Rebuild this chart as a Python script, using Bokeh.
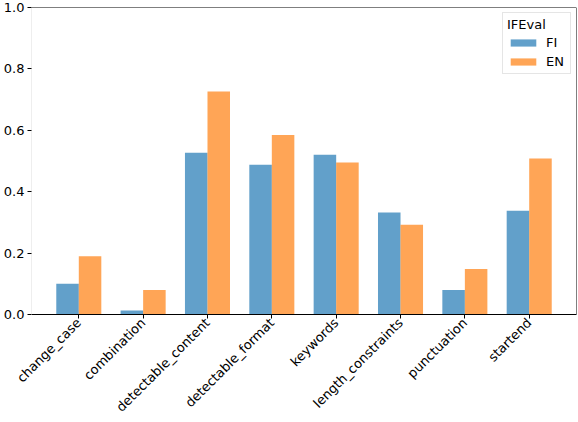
import numpy as np
from bokeh.plotting import figure
from bokeh.models import Range1d, FixedTicker, Span, NumeralTickFormatter
from bokeh.embed import file_html
from bokeh.resources import INLINE

categories = ["change_case", "combination", "detectable_content", "detectable_format",
              "keywords", "length_constraints", "punctuation", "startend"]
fi_values = [0.100, 0.013, 0.527, 0.488, 0.520, 0.332, 0.080, 0.338]
en_values = [0.190, 0.080, 0.726, 0.585, 0.495, 0.292, 0.148, 0.508]
series_names = ["FI", "EN"]
y_ticks = [0.0, 0.2, 0.4, 0.6, 0.8, 1.0]
legend_title = "IFEval"

FONT = "DejaVu Sans"
FS = "13px"
bar_w = 0.35

x = np.arange(len(categories))
span_all = len(categories) - 1 + 2 * bar_w
x_lo = -bar_w - 0.05 * span_all
x_hi = (len(categories) - 1) + bar_w + 0.05 * span_all

p = figure(width=578, height=422, output_backend="svg", toolbar_location=None,
           x_range=Range1d(x_lo, x_hi), y_range=Range1d(0, 1),
           min_border_top=7, min_border_right=2, min_border_left=0, min_border_bottom=0)

p.vbar(x=x - bar_w / 2, top=fi_values, width=bar_w, fill_color="#1f77b4", fill_alpha=0.7,
       line_color=None, legend_label=series_names[0])
p.vbar(x=x + bar_w / 2, top=en_values, width=bar_w, fill_color="#ff7f0e", fill_alpha=0.7,
       line_color=None, legend_label=series_names[1])

p.outline_line_color = None
p.grid.visible = False
p.background_fill_color = "white"
p.border_fill_color = "white"

p.add_layout(Span(location=p.y_range.end, dimension="width", line_color="black", line_width=1))
p.add_layout(Span(location=p.x_range.end, dimension="height", line_color="black", line_width=1))

xa = p.xaxis[0]
xa.ticker = FixedTicker(ticks=list(x))
xa.major_label_overrides = {int(i): c for i, c in zip(x, categories)}
xa.major_label_orientation = np.pi / 4
xa.major_label_text_font = FONT
xa.major_label_text_font_size = FS
xa.major_label_text_color = "black"
xa.major_tick_out = 4
xa.major_tick_in = 0
xa.minor_tick_line_color = None
xa.axis_line_color = "black"
xa.major_tick_line_color = "black"
xa.major_label_standoff = 2

ya = p.yaxis[0]
ya.ticker = FixedTicker(ticks=y_ticks)
ya.formatter = NumeralTickFormatter(format="0.0")
ya.major_label_text_font = FONT
ya.major_label_text_font_size = FS
ya.major_label_text_color = "black"
ya.major_tick_out = 4
ya.major_tick_in = 0
ya.minor_tick_line_color = None
ya.axis_line_color = "#eeeeee"
ya.major_tick_line_color = "black"
ya.major_label_standoff = 3

lg = p.legend[0]
lg.title = legend_title
lg.title_text_font = FONT
lg.title_text_font_size = FS
lg.title_text_font_style = "normal"
lg.title_text_color = "black"
lg.title_standoff = 2
lg.label_text_font = FONT
lg.label_text_font_size = FS
lg.label_text_color = "black"
lg.location = "top_right"
lg.margin = 5
lg.padding = 4
lg.spacing = 3
lg.glyph_width = 32
lg.glyph_height = 9
lg.label_height = 16
lg.label_standoff = 7
lg.border_line_color = "#cccccc"
lg.background_fill_alpha = 0.8

open("out.html", "w").write(file_html(p, INLINE))
